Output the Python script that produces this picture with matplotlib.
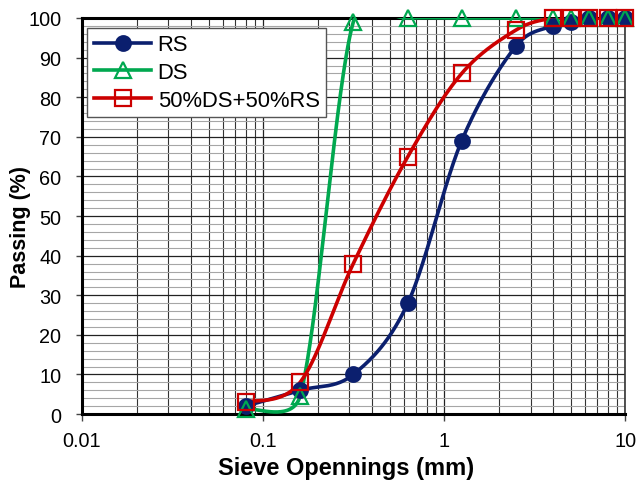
import numpy as np
import matplotlib
matplotlib.use("Agg")
import matplotlib.pyplot as plt
from matplotlib.ticker import FixedLocator, NullFormatter

plt.rcParams["font.family"] = ["Liberation Sans", "DejaVu Sans"]

sizes = [0.08, 0.16, 0.315, 0.63, 1.25, 2.5, 4, 5, 6.3, 8, 10]
rs = [2, 6, 10, 28, 69, 93, 98, 99, 100, 100, 100]
ds = [1.3, 4.5, 99, 100, 100, 100, 100, 100, 100, 100, 100]
mix = [3, 8, 38, 65, 86, 97, 100, 100, 100, 100, 100]

labels = ["RS", "DS", "50%DS+50%RS"]
colors = ["#0B1F6E", "#00A84F", "#CC0000"]

# approximate pixel scale of the plot area (smoothing is done in screen space)
PX_DEC = 181.0
PX_Y = 3.96


def smooth(xs, ys, n=60):
    # Excel-like smoothed line: Catmull-Rom Bezier, control arms capped at half segment
    P = np.column_stack([np.log10(xs) * PX_DEC, np.asarray(ys, float) * PX_Y])
    m = len(P)
    out = []
    for i in range(m - 1):
        p0 = P[i - 1] if i > 0 else P[i]
        p1, p2 = P[i], P[i + 1]
        p3 = P[i + 2] if i + 2 < m else P[i + 1]
        d12 = np.linalg.norm(p2 - p1)
        v1 = (p2 - p0) / 6.0
        v2 = (p3 - p1) / 6.0
        for v in (v1, v2):
            L = np.linalg.norm(v)
            if L > d12 / 2 and L > 0:
                v *= (d12 / 2) / L
        c1 = p1 + v1
        c2 = p2 - v2
        t = np.linspace(0, 1, n)[:, None]
        b = ((1 - t) ** 3) * p1 + 3 * ((1 - t) ** 2) * t * c1 + 3 * (1 - t) * t ** 2 * c2 + t ** 3 * p2
        out.append(b if i == 0 else b[1:])
    B = np.vstack(out)
    return 10 ** (B[:, 0] / PX_DEC), B[:, 1] / PX_Y


fig = plt.figure(figsize=(6.36, 4.81), dpi=100)
ax = fig.add_axes([0.129, 0.137, 0.854, 0.8235])
ax.set_xscale("log")
ax.set_xlim(0.01, 10)
ax.set_ylim(0, 100)

# grid
ax.set_yticks(np.arange(0, 101, 10))
ax.yaxis.set_minor_locator(FixedLocator(np.arange(0, 101, 2)))
ax.grid(True, which="major", axis="both", color="#222222", lw=0.9)
ax.grid(True, which="minor", axis="x", color="#333333", lw=0.8)
ax.grid(True, which="minor", axis="y", color="#A6A6A6", lw=0.8)
ax.set_axisbelow(True)
ax.xaxis.set_minor_formatter(NullFormatter())

markers = ["o", "^", "s"]
mfc = [colors[0], "none", "none"]
msz = [10.5, 11, 11]
series = [rs, ds, mix]
handles = []
for data, c, mk, fc, ms, lab in zip(series, colors, markers, mfc, msz, labels):
    sx, sy = smooth(sizes, data)
    ax.plot(sx, sy, color=c, lw=2.6, zorder=3, clip_on=True)
    ax.plot(sizes, data, ls="none", marker=mk, mfc=fc, mec=c, mew=1.6,
            ms=ms, zorder=4, clip_on=False)
    h, = ax.plot([], [], color=c, lw=2.6, marker=mk, mfc=fc, mec=c, mew=1.6, ms=ms)
    handles.append(h)

ax.set_xticks([0.01, 0.1, 1, 10])
ax.set_xticklabels(["0.01", "0.1", "1", "10"])
ax.tick_params(axis="both", which="major", labelsize=14.3, width=1, color="#444444")
ax.tick_params(axis="x", which="major", length=5, pad=7)
ax.tick_params(axis="y", which="major", length=4, pad=11)
ax.tick_params(axis="both", which="minor", length=0)

for s in ["left", "bottom", "top"]:
    ax.spines[s].set_linewidth(2.2)
    ax.spines[s].set_color("black")
ax.spines["right"].set_linewidth(1.2)
ax.spines["right"].set_color("#333333")

ax.set_xlabel("Sieve Opennings (mm)", fontsize=17, fontweight="bold")
ax.set_ylabel("Passing (%)", fontsize=15.5, fontweight="bold")
ax.xaxis.set_label_coords(0.487, -0.105)
ax.yaxis.set_label_coords(-0.094, 0.475)

leg = ax.legend(handles, labels, loc="upper left", bbox_to_anchor=(0.01, 0.975),
                fontsize=15.8, frameon=True, fancybox=False, edgecolor="#555555",
                framealpha=1, handlelength=2.6, borderpad=0.3, labelspacing=0.3,
                handletextpad=0.3, borderaxespad=0)
leg.get_frame().set_linewidth(1.0)
leg.set_zorder(5)

fig.savefig("out.png", dpi=100)
